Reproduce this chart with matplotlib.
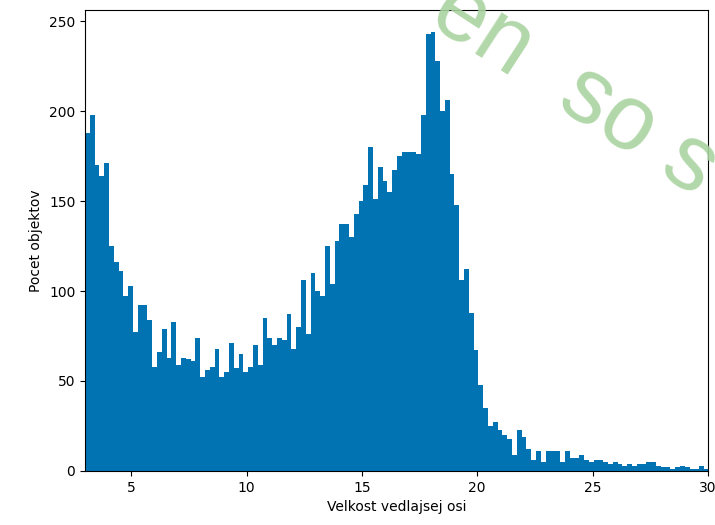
import numpy as np
import matplotlib
matplotlib.use('Agg')
import matplotlib.pyplot as plt

# histogram (pocet objektov v kazdom bine), precitane z obrazka
x_start = 3.0
bin_w = 0.208
counts = [
    188, 198, 170, 164, 171, 125, 116, 111, 97, 103,
    77, 92, 92, 84, 58, 66, 79, 63, 83, 59,
    63, 62, 61, 74, 52, 56, 58, 68, 52, 55,
    71, 57, 65, 55, 58, 70, 59, 85, 74, 70,
    74, 73, 87, 68, 80, 106, 76, 110, 100, 97,
    125, 104, 128, 137, 137, 130, 143, 150, 159, 180,
    151, 169, 161, 155, 167, 175, 177, 177, 177, 176,
    198, 243, 244, 228, 200, 206, 165, 148, 106, 112,
    88, 67, 48, 35, 25, 27, 23, 20, 18, 9,
    23, 19, 12, 6, 11, 5, 11, 11, 11, 5,
    11, 7, 7, 9, 6, 5, 6, 6, 5, 4,
    5, 4, 3, 4, 3, 4, 4, 5, 5, 3,
    2, 2, 1, 2, 3, 2, 1, 1, 3, 1, 1,
]
x_lim = (3.0, 30)
x_label = 'Velkost vedlajsej osi'
y_label = 'Pocet objektov'
watermark = 'en  so s'

fig = plt.figure(figsize=(7.15, 5.25), dpi=100)
ax = fig.add_axes([0.119, 0.103, 0.871, 0.878])

lefts = x_start + bin_w * np.arange(len(counts))
ax.bar(lefts, counts, width=bin_w, align='edge', color='#0173b2', linewidth=0)
ax.set_xlim(*x_lim)
ax.set_xlabel(x_label)
ax.set_ylabel(y_label)

# vodoznak v pravom hornom rohu
fig.text(0.596, 0.957, watermark, rotation=-33, rotation_mode='anchor',
         ha='left', va='baseline', fontsize=66, family='Liberation Sans',
         color='#a9d3a0', alpha=0.9)

fig.savefig('out.png', dpi=100)
